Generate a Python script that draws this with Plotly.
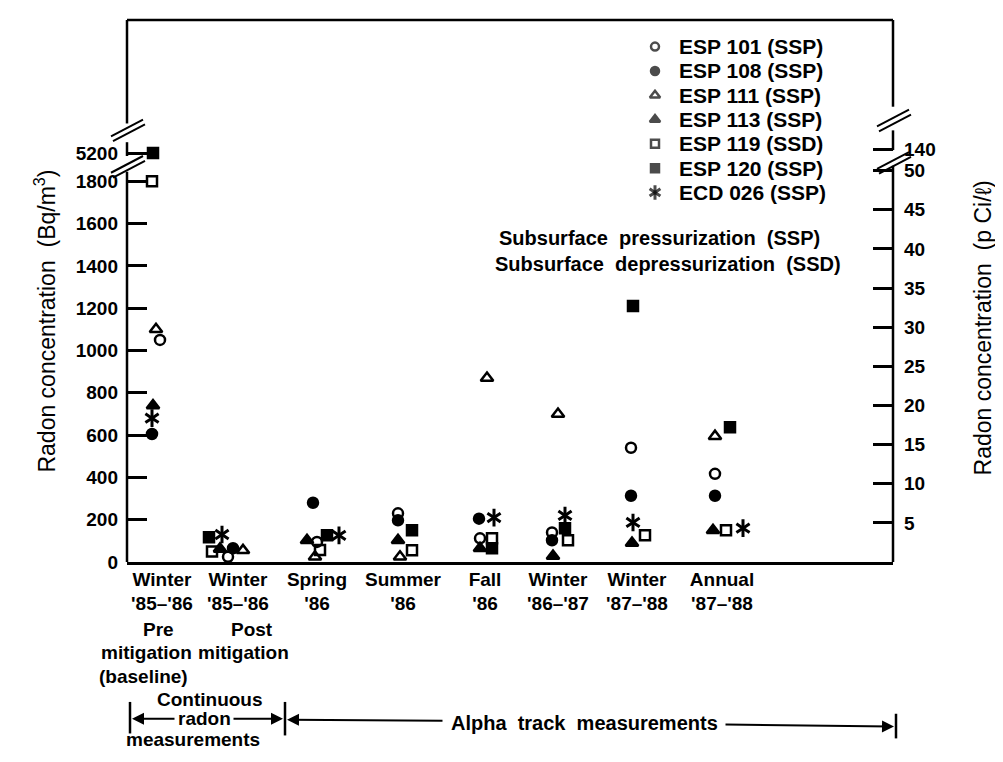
import plotly.graph_objects as go

# ---------------- data ----------------
CATEGORIES = ["Winter<br>'85–'86", "Winter<br>'85–'86", "Spring<br>'86", "Summer<br>'86",
              "Fall<br>'86", "Winter<br>'86–'87", "Winter<br>'87–'88", "Annual<br>'87–'88"]
CAT_POS = [3.5, 11.1, 19.0, 27.6, 35.8, 43.1, 51.0, 59.5]

SERIES_NAMES = ["ESP 101 (SSP)", "ESP 108 (SSP)", "ESP 111 (SSP)", "ESP 113 (SSP)",
                "ESP 119 (SSD)", "ESP 120 (SSP)", "ECD 026 (SSP)"]

# x positions of the points inside each period cluster
X_ESP101 = [3.3, 10.1, 19.0, 27.1, 35.3, 42.5, 50.4, 58.8]
X_ESP108 = [2.5, 10.6, 18.6, 27.1, 35.2, 42.5, 50.4, 58.8]
X_ESP111 = [2.9, 11.6, 18.8, 27.3, 36.0, 43.1, 50.5, 58.8]
X_ESP113 = [2.6, 9.3, 18.0, 27.1, 35.3, 42.6, 50.5, 58.6]
X_ESP119 = [2.5, 8.5, 19.3, 28.5, 36.5, 44.1, 51.8, 59.9]
X_ESP120 = [2.6, 8.2, 20.0, 28.5, 36.5, 43.8, 50.6, 60.3]
X_ECD026 = [2.5, 9.5, 21.2, 27.6, 36.7, 43.8, 50.6, 61.6]

# radon concentration, Bq/m3
Y_ESP101 = [1050, 25, 95, 230, 112, 140, 540, 417]
Y_ESP108 = [605, 65, 280, 197, 205, 103, 313, 313]
Y_ESP111 = [1100, 55, 25, 25, 870, 700, None, 595]
Y_ESP113 = [740, 62, 103, 103, 65, 28, 90, 150]
Y_ESP119 = [1800, 50, 57, 56, 112, 103, 126, 150]
Y_ESP120 = [5200, 117, 126, 150, 65, 160, 1210, 637]
Y_ECD026 = [680, 130, 126, None, 210, 220, 187, 160]

LEFT_TICKS = [0, 200, 400, 600, 800, 1000, 1200, 1400, 1600, 1800]
UPPER_LEFT_TICKS = [5200]
RIGHT_TICKS = [5, 10, 15, 20, 25, 30, 35, 40, 45, 50]
UPPER_RIGHT_TICKS = [140]
BQ_PER_PCI = 37.0

LOW_MAX = 1859.0
HIGH_RANGE = [5148.7, 5829.0]
HIGH_RANGE_PCI = [138.1, 156.5]
BREAK = 2000

# ---------------- geometry ----------------
# the page body has an 8 px margin, so the figure is 8 px smaller each way
W, H = 995, 754
L, R, T, B = 119, 110, 4, 200
PW, PH = W - L - R, H - T - B


def px(x):  # picture x -> paper
    return (x - 8 - L) / PW


def py(y):  # picture y -> paper
    return (H - B - (y - 8)) / PH


FONT = "Liberation Sans"
BLACK = "black"

series = [
    (SERIES_NAMES[0], X_ESP101, Y_ESP101, ["circle-open"]),
    (SERIES_NAMES[1], X_ESP108, Y_ESP108, ["circle"]),
    (SERIES_NAMES[2], X_ESP111, Y_ESP111, ["triangle-up-open"]),
    (SERIES_NAMES[3], X_ESP113, Y_ESP113, ["triangle-up"]),
    (SERIES_NAMES[4], X_ESP119, Y_ESP119, ["square-open"]),
    (SERIES_NAMES[5], X_ESP120, Y_ESP120, ["square"]),
    (SERIES_NAMES[6], X_ECD026, Y_ECD026, ["y-up-open", "y-down-open"]),
]


def marker_style(sym, legend=False):
    if sym.startswith("y-"):
        return dict(symbol=sym, size=9 if legend else 11, color=BLACK,
                    line=dict(color=BLACK, width=3))
    if sym.startswith("triangle"):
        size = 9 if legend else 11
    else:
        size = 8 if legend else 10
    return dict(symbol=sym, size=size, color=BLACK, line=dict(color=BLACK, width=2.5))


fig = go.Figure()
for name, xs, ys, syms in series:
    low = [v if (v is not None and v < BREAK) else None for v in ys]
    high = [v if (v is not None and v >= BREAK) else None for v in ys]
    for sym in syms:
        mk = marker_style(sym)
        fig.add_trace(go.Scatter(x=xs, y=low, mode="markers", name=name, marker=mk,
                                 legendgroup=name, showlegend=False, xaxis="x", yaxis="y"))
        if any(h is not None for h in high):
            fig.add_trace(go.Scatter(x=xs, y=high, mode="markers", name=name, marker=mk,
                                     legendgroup=name, showlegend=False,
                                     xaxis="x", yaxis="y3"))

# invisible companions so the pCi/L axes are drawn
fig.add_trace(go.Scatter(x=X_ESP101, y=[v / BQ_PER_PCI for v in Y_ESP101], mode="markers",
                         marker=dict(opacity=0), showlegend=False, hoverinfo="skip",
                         xaxis="x", yaxis="y2"))
fig.add_trace(go.Scatter(x=[X_ESP120[0]], y=[HIGH_RANGE_PCI[0] + 1], mode="markers",
                         marker=dict(opacity=0), showlegend=False, hoverinfo="skip",
                         xaxis="x", yaxis="y4"))

# legend key: one row per series on its own small axis pair
rows = list(range(len(series)))
for k in range(2):
    r_idx = [i for i, s in enumerate(series) if len(s[3]) > k]
    fig.add_trace(go.Scatter(
        x=[0.5] * len(r_idx), y=r_idx, mode="markers", showlegend=False, hoverinfo="skip",
        marker=dict(symbol=[series[i][3][k] for i in r_idx],
                    size=[marker_style(series[i][3][k], True)["size"] for i in r_idx],
                    color=BLACK,
                    line=dict(color=BLACK,
                              width=[marker_style(series[i][3][k], True)["line"]["width"]
                                     for i in r_idx])),
        xaxis="x2", yaxis="y5"))

tickfont = dict(family=FONT, size=19, color=BLACK, weight="bold")
low_top = py(163)
high_bot = py(158)

axis_common = dict(showgrid=False, zeroline=False, showline=False, ticks="inside",
                   ticklen=20, tickwidth=2.5, tickcolor=BLACK, tickfont=tickfont,
                   fixedrange=True)

LEG_TOP, LEG_PITCH = 39, 24.67
n = len(series)

fig.update_layout(
    width=W, height=H,
    margin=dict(l=L, r=R, t=T, b=B, pad=0),
    paper_bgcolor="white", plot_bgcolor="rgba(0,0,0,0)",
    font=dict(family=FONT, size=19, color=BLACK),
    showlegend=False,
    xaxis=dict(range=[0, PW / 10.0], domain=[0, 1], tickvals=CAT_POS, ticktext=CATEGORIES,
               ticks="", showgrid=False, zeroline=False, showline=True, linewidth=2.5,
               linecolor=BLACK, tickfont=tickfont, anchor="y", fixedrange=True,
               ticklabelstandoff=-2),
    yaxis=dict(domain=[0, low_top], range=[0, LOW_MAX], tickvals=LEFT_TICKS,
               anchor="x", ticklabelstandoff=8, **axis_common),
    yaxis2=dict(overlaying="y", side="right", range=[0, LOW_MAX / BQ_PER_PCI],
                tickvals=RIGHT_TICKS, anchor="x", ticklabelstandoff=10, **axis_common),
    yaxis3=dict(domain=[high_bot, 1], range=HIGH_RANGE, tickvals=UPPER_LEFT_TICKS,
                anchor="x", ticklabelstandoff=8, **axis_common),
    yaxis4=dict(overlaying="y3", side="right", range=HIGH_RANGE_PCI,
                tickvals=UPPER_RIGHT_TICKS, anchor="x", ticklabelstandoff=10, **axis_common),
    xaxis2=dict(domain=[px(645), px(665)], range=[0, 1], visible=False, anchor="y5",
                fixedrange=True),
    yaxis5=dict(domain=[py(LEG_TOP + LEG_PITCH * (n - 0.5)), py(LEG_TOP - LEG_PITCH * 0.5)],
                range=[n - 0.5, -0.5], visible=False, anchor="x2", fixedrange=True),
)

# ---------------- frame with axis breaks ----------------
shapes = []


def seg(x0, y0, x1, y1, w=2.5):
    shapes.append(dict(type="line", xref="paper", yref="paper",
                       x0=px(x0), y0=py(y0), x1=px(x1), y1=py(y1),
                       line=dict(color=BLACK, width=w)))


seg(127, 12, 893, 12)
seg(127, 12, 127, 117)
seg(127, 136, 127, 150)
seg(127, 166, 127, 562)
seg(893, 12, 893, 100)
seg(893, 124, 893, 144)
seg(893, 160, 893, 562)
for cx, cy in [(127, 123), (127, 160), (893, 113), (893, 156)]:
    seg(cx - 16, cy + 7, cx + 16, cy - 10, 2)
    seg(cx - 14, cy + 12, cx + 18, cy - 5, 2)

seg(130, 704, 130, 736, 2.5)
seg(285, 704, 285, 738, 2.5)
seg(896, 716, 896, 741, 2.5)

fig.update_layout(shapes=shapes)

# ---------------- texts ----------------
ann = []


def text(x, y, s, size=19, anchor="center", angle=0, bold=True):
    ann.append(dict(x=px(x), y=py(y), xref="paper", yref="paper", text=s, showarrow=False,
                    xanchor=anchor, yanchor="middle", textangle=angle,
                    font=dict(family=FONT, size=size, color=BLACK,
                              weight="bold" if bold else "normal")))


def arrow(x_head, y_head, x_tail, y_tail):
    ann.append(dict(x=px(x_head), y=py(y_head), xref="paper", yref="paper",
                    ax=x_tail - x_head, ay=y_tail - y_head, text="", showarrow=True,
                    arrowhead=2, arrowsize=1.2, arrowwidth=2, arrowcolor=BLACK))


# legend texts, one per key row
for i, (name, *_rest) in enumerate(series):
    ann.append(dict(x=px(677), y=i, xref="paper", yref="y5", text=name, showarrow=False,
                    xanchor="left", yanchor="middle",
                    font=dict(family=FONT, size=21, color=BLACK, weight="bold")))

# extra lines of the first two period labels
text(158, 630, "Pre")
text(146, 654, "mitigation")
text(143, 678, "(baseline)")
text(252, 630, "Post")
text(243, 654, "mitigation")

# measurement spans
text(210, 702, "Continuous")
text(204, 721, "radon")
text(193, 742, "measurements")
text(584, 725, "Alpha  track  measurements", size=20)
arrow(132, 721, 176, 721)
arrow(283, 721, 232, 721)
arrow(287, 722, 444, 723)
arrow(894, 729, 724, 727)

# notes
text(497, 233, "Subsurface  pressurization  (SSP)", size=20, anchor="left")
text(493, 260, "Subsurface  depressurization  (SSD)", size=20, anchor="left")

# axis titles
text(45, 318, "Radon concentration  (Bq/m<sup>3</sup>)", size=23, angle=-90, bold=False)
text(983, 325, "Radon concentration  (p Ci/ℓ)", size=23, angle=-90, bold=False)

fig.update_layout(annotations=ann)

fig.write_html("out.html")
